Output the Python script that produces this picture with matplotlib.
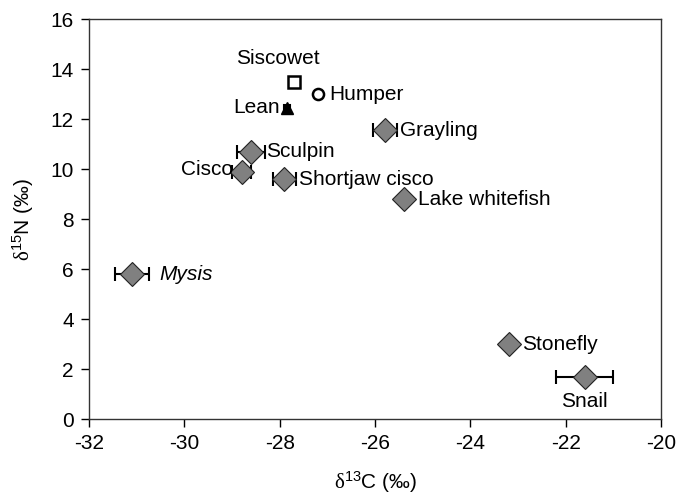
import matplotlib
matplotlib.use('Agg')
import matplotlib.pyplot as plt

plt.rcParams['font.family'] = ['Liberation Sans', 'DejaVu Sans']
plt.rcParams['mathtext.fontset'] = 'custom'
plt.rcParams['mathtext.rm'] = 'Liberation Serif'
plt.rcParams['mathtext.it'] = 'Liberation Serif:italic'
plt.rcParams['mathtext.sf'] = 'Liberation Sans'
plt.rcParams['axes.unicode_minus'] = False

# fish / invertebrate groups with grey diamonds
species = ['Grayling', 'Sculpin', 'Cisco', 'Shortjaw cisco', 'Lake whitefish',
           'Mysis', 'Stonefly', 'Snail']
d13c = [-25.8, -28.6, -28.8, -27.9, -25.4, -31.1, -23.2, -21.6]
d15n = [11.55, 10.7, 9.9, 9.6, 8.8, 5.8, 3.0, 1.7]
d13c_err = [0.25, 0.3, 0.2, 0.25, 0.05, 0.35, 0.08, 0.6]
d15n_err = [0.05, 0.05, 0.05, 0.05, 0.05, 0.05, 0.12, 0.05]

# lake trout morphotypes
trout = ['Siscowet', 'Humper', 'Lean']
trout_c = [-27.7, -27.2, -27.85]
trout_n = [13.5, 13.0, 12.45]
trout_c_err = [0.0, 0.0, 0.06]
trout_n_err = [0.0, 0.0, 0.1]

# label offsets in pixels (dx, dy, ha)
offsets = {
    'Siscowet': (-16, 23, 'center'),
    'Humper': (11, 0, 'left'),
    'Lean': (-7, 0, 'right'),
    'Grayling': (15, 0, 'left'),
    'Sculpin': (15, 0, 'left'),
    'Cisco': (-9, 2, 'right'),
    'Shortjaw cisco': (15, 0, 'left'),
    'Lake whitefish': (14, 0, 'left'),
    'Mysis': (27, 0, 'left'),
    'Stonefly': (14, 0, 'left'),
    'Snail': (0, -25, 'center'),
}

fig = plt.figure(figsize=(6.77, 4.95), dpi=100)
ax = fig.add_axes([0.1315, 0.1535, 0.845, 0.8081])

ax.errorbar(d13c, d15n, xerr=d13c_err, yerr=d15n_err, fmt='none',
            ecolor='black', elinewidth=1.5, capsize=5, capthick=1.5, zorder=2)
ax.plot(d13c, d15n, 'D', color='#808080', markeredgecolor='#222222',
        markeredgewidth=0.8, markersize=12, linestyle='none', zorder=3)

ax.errorbar(trout_c[2], trout_n[2], xerr=trout_c_err[2], yerr=trout_n_err[2],
            fmt='^', color='black', markersize=8, ecolor='black',
            elinewidth=1.5, capsize=3, capthick=1.5, zorder=3)
ax.plot(trout_c[0], trout_n[0], 's', markerfacecolor='white',
        markeredgecolor='black', markeredgewidth=1.8, markersize=9, zorder=3)
ax.plot(trout_c[1], trout_n[1], 'o', markerfacecolor='white',
        markeredgecolor='black', markeredgewidth=1.8, markersize=8, zorder=3)

for name, x, y in list(zip(species, d13c, d15n)) + list(zip(trout, trout_c, trout_n)):
    dx, dy, ha = offsets[name]
    style = 'italic' if name == 'Mysis' else 'normal'
    ax.annotate(name, (x, y), xytext=(dx, dy), textcoords='offset pixels',
                ha=ha, va='center', fontsize=15, fontstyle=style)

ax.set_xlim(-32, -20)
ax.set_ylim(0, 16)
ax.set_xticks(range(-32, -19, 2))
ax.set_yticks(range(0, 17, 2))
ax.tick_params(direction='out', length=6, width=1, labelsize=15, pad=5,
               top=False, right=False)
for s in ax.spines.values():
    s.set_color('#333333')
    s.set_linewidth(1)

ax.set_xlabel(r'$\mathrm{\delta}^{\mathsf{13}}$C (‰)', fontsize=15, labelpad=12)
ax.set_ylabel(r'$\mathrm{\delta}^{\mathsf{15}}$N (‰)', fontsize=15, labelpad=10)

fig.savefig('out.png', dpi=100)
